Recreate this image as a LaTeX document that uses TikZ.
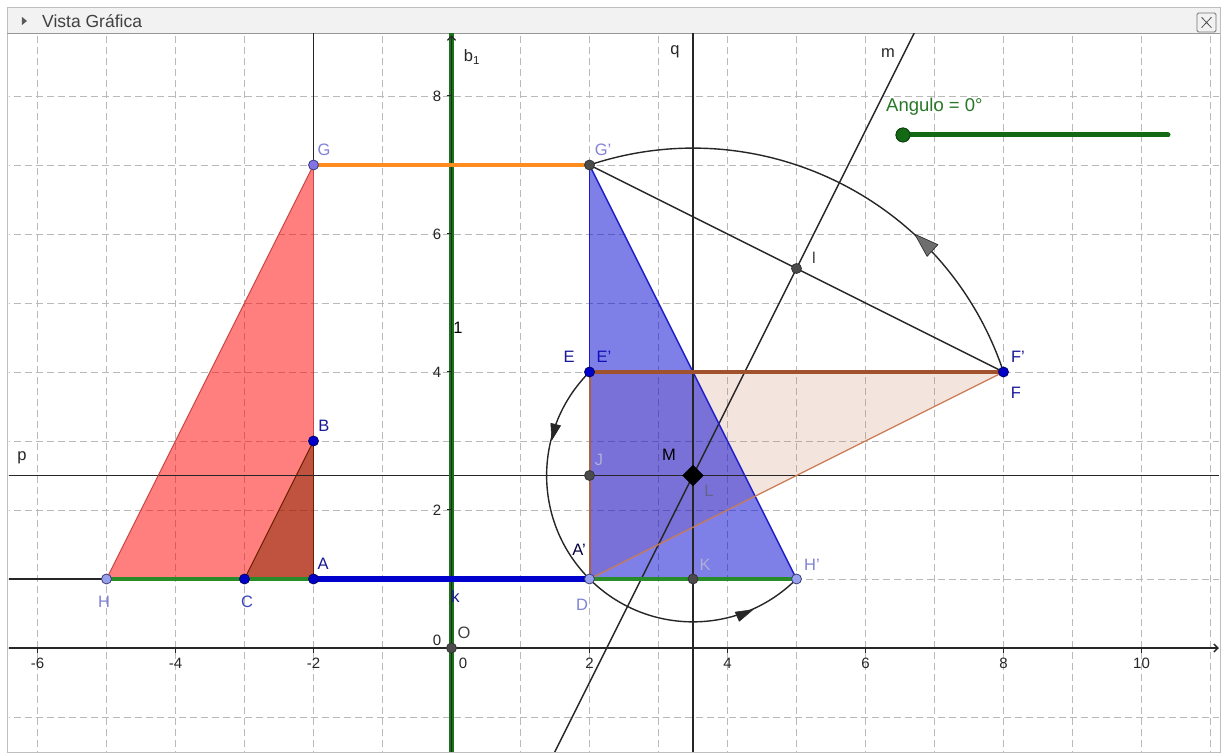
\documentclass[tikz,border=0pt]{standalone}
\usepackage{fontspec}
\setmainfont{Liberation Sans}
\usetikzlibrary{arrows.meta,shapes.geometric}
\definecolor{gridc}{RGB}{185,185,185}
\definecolor{redE}{RGB}{200,70,70}
\definecolor{darkredF}{RGB}{130,40,0}
\definecolor{blueF}{RGB}{0,0,210}
\definecolor{blueE}{RGB}{30,30,200}
\definecolor{brownE}{RGB}{160,82,45}
\definecolor{brownL}{RGB}{200,125,85}
\definecolor{brownF}{RGB}{200,120,90}
\definecolor{orangeS}{RGB}{255,140,30}
\definecolor{greenS}{RGB}{40,140,40}
\definecolor{greenB}{RGB}{25,115,25}
\definecolor{sliderG}{RGB}{20,105,20}
\definecolor{sliderT}{RGB}{40,120,40}
\definecolor{thickB}{RGB}{0,0,205}
\definecolor{ptDarkF}{RGB}{0,0,200}
\definecolor{ptDarkE}{RGB}{0,0,110}
\definecolor{ptLavF}{RGB}{150,160,235}
\definecolor{ptPurF}{RGB}{130,115,230}
\definecolor{ptLavE}{RGB}{60,60,120}
\definecolor{ptGrayF}{RGB}{75,75,75}
\definecolor{labDark}{RGB}{25,25,150}
\definecolor{labLav}{RGB}{130,130,215}
\definecolor{labMid}{RGB}{60,70,190}
\definecolor{labGray}{RGB}{100,100,140}
\definecolor{labJ}{RGB}{175,175,215}
\definecolor{titleBg}{RGB}{242,242,242}
\definecolor{frameC}{RGB}{190,190,190}
\definecolor{arrGray}{RGB}{110,110,110}
\begin{document}
\begin{tikzpicture}[x=69pt,y=69pt,
  gridline/.style={draw=gridc, line width=0.8pt, dash pattern=on 7pt off 4pt},
  blk/.style={draw=black!85, line width=1.4pt},
  lbl/.style={font=\fontsize{16.5}{19}\selectfont, inner sep=0pt},
  ticklbl/.style={font=\fontsize{15}{17}\selectfont, inner sep=0pt, text=black!85},
  ptd/.style={circle, inner sep=0pt, minimum size=10pt, line width=0.8pt, fill=ptDarkF, draw=ptDarkE},
  ptl/.style={circle, inner sep=0pt, minimum size=10pt, line width=0.8pt, fill=ptLavF, draw=ptLavE},
  ptp/.style={circle, inner sep=0pt, minimum size=10pt, line width=0.8pt, fill=ptPurF, draw=ptLavE},
  ptg/.style={circle, inner sep=0pt, minimum size=10pt, line width=0.8pt, fill=ptGrayF, draw=black!80},
  arrowhd/.style={line width=0.6pt, draw=black!85}]
\useasboundingbox (-6.5435,-1.5217) rectangle (11.1522,9.3913);
\fill[white] (-6.5435,-1.5217) rectangle (11.1522,9.3913);
% window frame and title bar
\fill[titleBg] (-6.435,8.913) rectangle (11.138,9.290);
\draw[frameC, line width=0.8pt] (-6.435,-1.507) rectangle (11.138,9.290);
\draw[frameC!80!black, line width=0.8pt] (-6.435,8.913) -- (11.138,8.913);
\fill[black!65] (-6.225,9.145) -- (-6.152,9.087) -- (-6.225,9.029) -- cycle;
\node[anchor=west, inner sep=0pt, font=\fontsize{17.5}{20}\selectfont, text=black!75] (title) at (-5.935,9.087) {Vista Gráfica};
\draw[black!55, line width=0.8pt, rounded corners=1.5pt] (10.804,8.928) rectangle (11.080,9.203);
\draw[black!70, line width=0.8pt] (10.870,8.990) -- (11.014,9.141) (10.870,9.141) -- (11.014,8.990);

% named points
\coordinate (G) at (-2,7);
\coordinate (B) at (-2,3);
\coordinate (A) at (-2,1);
\coordinate (C) at (-3,1);
\coordinate (H) at (-5,1);
\coordinate (Gp) at (2,7);
\coordinate (Ep) at (2,4);
\coordinate (Ap) at (2,1);
\coordinate (Hp) at (5,1);
\coordinate (Fp) at (8,4);
\coordinate (J) at (2,2.5);
\coordinate (K) at (3.5,1);
\coordinate (L) at (3.5,2.5);
\coordinate (I) at (5,5.5);
\coordinate (O) at (0,0);
% free ends of lines
\coordinate (pW) at (-6.5,2.5);
\coordinate (pE) at (11.2,2.5);
\coordinate (qN) at (3.5,9.0);
\coordinate (qS) at (3.5,-1.6);
\coordinate (mN) at (6.75,9.0);
\coordinate (mS) at (1.45,-1.6);
\coordinate (vN) at (-2,9.0);
\coordinate (hW) at (-6.5,1);
\coordinate (xW) at (-6.5,0);
\coordinate (xE) at (11.12,0);
\coordinate (yS) at (0,-1.6);
\coordinate (yN) at (0,8.88);
\coordinate (bN) at (0,9.0);

\begin{scope}
\clip (-6.413,-1.507) rectangle (11.123,8.899);
% grid
\foreach \gx in {-6,...,11} \draw[gridline] (\gx,-1.6) -- (\gx,9);
\foreach \gy in {-1,...,8} \draw[gridline] (-6.5,\gy) -- (11.2,\gy);
% fills
\fill[red, fill opacity=0.5] (G) -- (H) -- (A) -- cycle;
\fill[darkredF, fill opacity=0.5] (B) -- (C) -- (A) -- cycle;
\fill[brownF, fill opacity=0.2] (Ep) -- (Fp) -- (Ap) -- cycle;
\fill[blueF, fill opacity=0.5] (Gp) -- (Ap) -- (Hp) -- cycle;
% black lines
\draw[blk] (pW) -- (pE);
\draw[blk] (qN) -- (qS);
\draw[blk] (mS) -- (mN);
\draw[blk] (vN) -- (A);
\draw[blk] (hW) -- (H);
% line b_1 and axes
\draw[greenB, line width=5.5pt] (yS) -- (bN);
\draw[blk, -{Straight Barb[length=4pt,width=8pt]}] (xW) -- (xE);
\draw[blk, -{Straight Barb[length=4pt,width=8pt]}] (yS) -- (yN);
\end{scope}
% ticks and tick labels
\foreach \tx in {-6,-4,-2,2,4,6,8,10} {
  \draw[black!85, line width=1pt] (\tx,0) -- (\tx,-0.07);
  \node[ticklbl] (xl\tx) at (\tx,-0.217) {\tx};
}
\node[ticklbl] (xl0) at (0.167,-0.217) {0};
\foreach \ty in {2,4,6,8} {
  \draw[black!85, line width=1pt] (-0.07,\ty) -- (0,\ty);
  \node[ticklbl] (yl\ty) at (-0.21,\ty) {\ty};
}
\node[ticklbl] (yl0) at (-0.21,0.116) {0};

% triangle edges
\draw[redE, line width=1pt] (G) -- (H);
\draw[redE, line width=1pt] (G) -- (A);
\draw[darkredF!80!black, line width=1pt] (B) -- (C);
\draw[darkredF!80!black, line width=1pt] (B) -- (A);
\draw[blueE, line width=1.4pt] (Gp) -- (Ap);
\draw[blueE, line width=1.4pt] (Gp) -- (Hp);
\draw[brownE, line width=3.5pt] (Ep) -- (Fp);
\draw[brownL, line width=1.3pt] (Ap) -- (Fp);
\draw[brownE!90!white, line width=2pt] (Ep) -- (Ap);
% segments
\draw[orangeS, line width=3.5pt] (G) -- (Gp);
\draw[greenS, line width=3.5pt] (H) -- (A);
\draw[greenS, line width=3.5pt] (Ap) -- (Hp);
\draw[thickB, line width=6pt] (A) -- (Ap);
\draw[blk] (Gp) -- (Fp);
% arcs
\draw[blk] (Gp) arc[start angle=108.435, end angle=18.435, radius=4.7434];
\draw[blk] (Ep) arc[start angle=135, end angle=315, radius=2.1213];
% arc arrowheads
\begin{scope}[shift={(L)}]
  \filldraw[arrowhd, fill=arrGray, shift={(47.4:4.75)}, rotate=137.4] (0pt,0pt) -- (-24pt,8pt) -- (-24pt,-8pt) -- cycle;
  \filldraw[arrowhd, fill=black!85, shift={(165.9:2.11)}, rotate=255.9] (0pt,0pt) -- (-16pt,5pt) -- (-16pt,-5pt) -- cycle;
  \filldraw[arrowhd, fill=black!85, shift={(294:2.13)}, rotate=24] (0pt,0pt) -- (-17pt,5pt) -- (-17pt,-5pt) -- cycle;
\end{scope}

% points
\node[ptp] (nG) at (G) {};
\node[ptd] (nB) at (B) {};
\node[ptd] (nA) at (A) {};
\node[ptd] (nC) at (C) {};
\node[ptl] (nH) at (H) {};
\node[ptg] (nGp) at (Gp) {};
\node[ptd] (nEp) at (Ep) {};
\node[ptl] (nAp) at (Ap) {};
\node[ptl] (nHp) at (Hp) {};
\node[ptd] (nFp) at (Fp) {};
\node[ptg] (nJ) at (J) {};
\node[ptg] (nK) at (K) {};
\node[ptg] (nI) at (I) {};
\node[ptg] (nO) at (O) {};
\node[diamond, fill=black, draw=black, inner sep=0pt, minimum width=21pt, minimum height=21pt] (nL) at (L) {};

% labels
\node[lbl, text=labLav] (tG) at (-1.848,7.217) {G};
\node[lbl, text=labLav] (tGp) at (2.196,7.217) {G'};
\node[lbl, text=labDark] (tB) at (-1.848,3.217) {B};
\node[lbl, text=labDark] (tA) at (-1.862,1.217) {A};
\node[lbl, text=labMid] (tC) at (-2.964,0.667) {C};
\node[lbl, text=labLav] (tH) at (-5.036,0.667) {H};
\node[lbl, text=black!75!blue] (tAp) at (1.848,1.420) {A'};
\node[lbl, text=labLav] (tD) at (1.891,0.623) {D};
\node[lbl, text=labJ] (tK) at (3.674,1.203) {K};
\node[lbl, text=labLav] (tHp) at (5.225,1.203) {H'};
\node[lbl, text=labDark] (tE) at (1.703,4.217) {E};
\node[lbl, text=labDark!70!blue] (tEp) at (2.210,4.217) {E'};
\node[lbl, text=labJ] (tJ) at (2.138,2.725) {J};
\node[lbl, text=black] (tM) at (3.152,2.797) {M};
\node[lbl, text=labGray] (tL) at (3.732,2.275) {L};
\node[lbl, text=black!70] (tI) at (5.254,5.652) {I};
\node[lbl, text=labDark] (tFp) at (8.210,4.217) {F'};
\node[lbl, text=labDark] (tF) at (8.181,3.696) {F};
\node[lbl, text=black!75] (tO) at (0.181,0.217) {O};
\node[lbl, text=labDark] (tk) at (0.058,0.739) {k};
\node[lbl, text=black] (t1) at (0.094,4.638) {1};
\node[lbl, text=black!85] (tb1) at (0.297,8.565) {b\textsubscript{1}};
\node[lbl, text=black!85] (tq) at (3.239,8.638) {q};
\node[lbl, text=black!85] (tm) at (6.326,8.623) {m};
\node[lbl, text=black!85] (tp) at (-6.225,2.754) {p};

% slider
\coordinate (sE) at (10.384,7.435);
\node[circle, fill=sliderG, draw=sliderG!60!black, line width=0.8pt, inner sep=0pt, minimum size=14pt] (sDot) at (6.543,7.435) {};
\draw[sliderG, line width=5pt, line cap=round] (sDot) -- (sE);
\node[circle, fill=sliderG, draw=sliderG!60!black, line width=0.8pt, inner sep=0pt, minimum size=14pt] (sDot2) at (6.543,7.435) {};
\node[anchor=west, inner sep=0pt, font=\fontsize{18.5}{21}\selectfont, text=sliderT] (sTxt) at (6.297,7.841) {Angulo = 0°};
\end{tikzpicture}
\end{document}
